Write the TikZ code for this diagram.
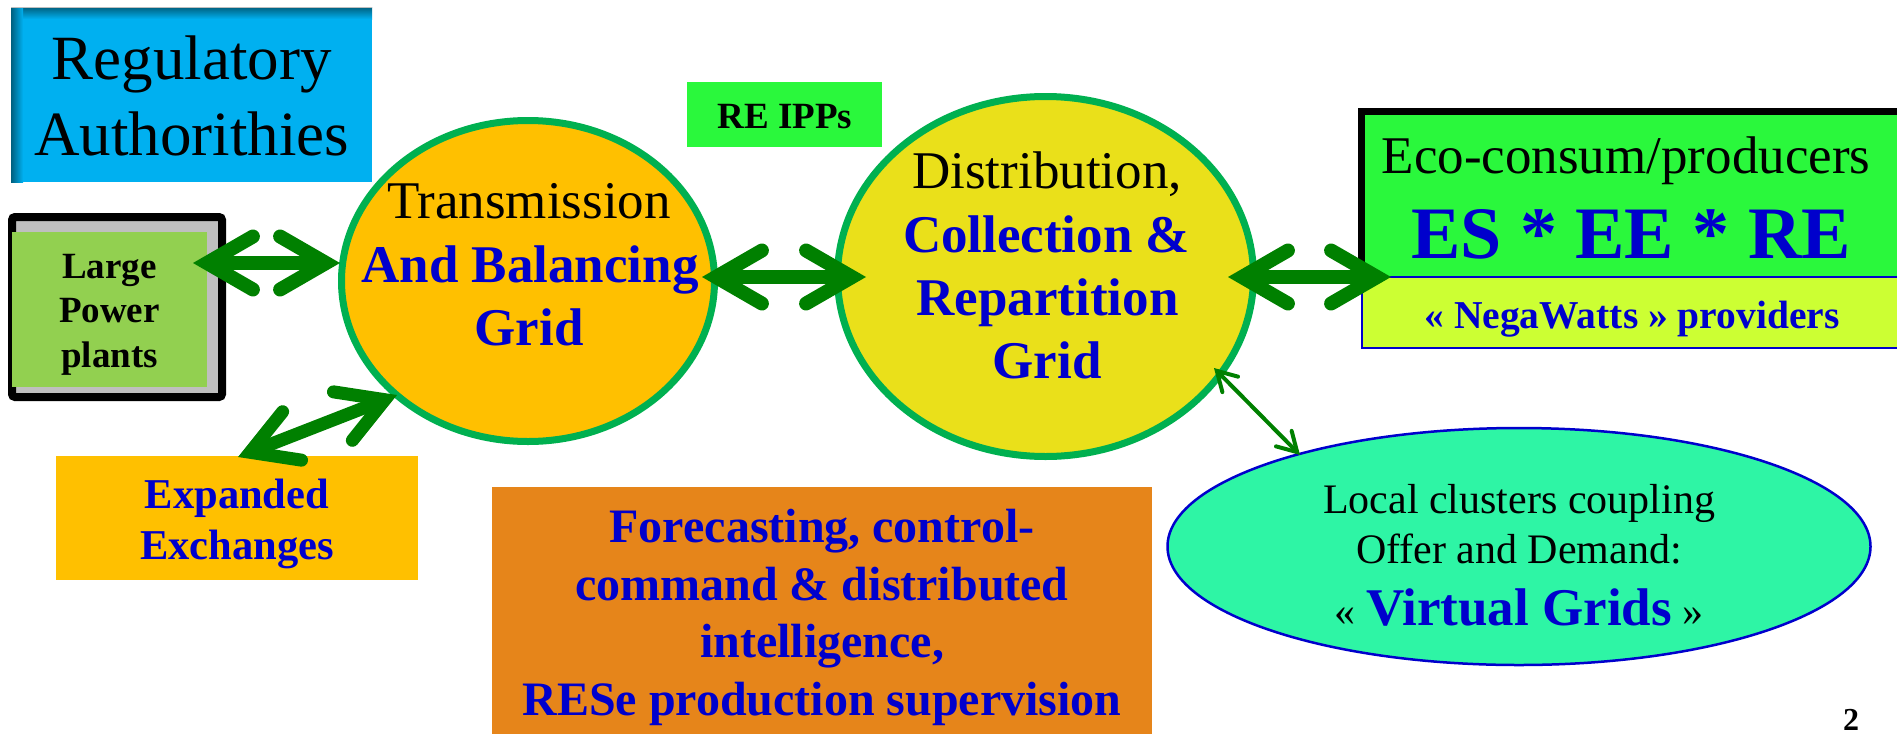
\documentclass[tikz,border=0pt]{standalone}
\usepackage{fontspec}
\setmainfont{Liberation Serif}
\usetikzlibrary{shapes.geometric,calc}
\definecolor{regblue}{HTML}{00B0F0}
\definecolor{regdark}{HTML}{00607F}
\definecolor{lppgreen}{HTML}{92D050}
\definecolor{lppgray}{HTML}{BFBFBF}
\definecolor{ringgreen}{HTML}{00B050}
\definecolor{transfill}{HTML}{FFC000}
\definecolor{distfill}{HTML}{EAE01A}
\definecolor{brightgreen}{HTML}{2AF83C}
\definecolor{negafill}{HTML}{CCFF33}
\definecolor{forefill}{HTML}{E6851A}
\definecolor{localfill}{HTML}{2EF5A5}
\definecolor{tblue}{HTML}{0000CC}
\definecolor{arrowgreen}{HTML}{008000}
\newcommand\fsz[1]{\fontsize{#1}{#1}\selectfont}
\newcommand\biarrow[4]{%
  \draw[arrowshaft, line width=#3] ($(#1)!#3!(#2)$) -- ($(#2)!#3!(#1)$);
  \draw[arrowbarb, line width=#3] ($(#1)!#3!(#2)!#4!30:(#2)$) -- ($(#1)!#3!(#2)$) -- ($(#1)!#3!(#2)!#4!-30:(#2)$);
  \draw[arrowbarb, line width=#3] ($(#2)!#3!(#1)!#4!30:(#1)$) -- ($(#2)!#3!(#1)$) -- ($(#2)!#3!(#1)!#4!-30:(#1)$);
}
\begin{document}
\begin{tikzpicture}[x=1pt,y=-1pt,
  txt/.style={inner sep=0pt, anchor=base},
  bb/.style={text=tblue, font={\fsz{#1}\bfseries}},
  box/.style={inner sep=0pt, outer sep=0pt, rectangle},
  ring/.style={ellipse, inner sep=0pt, draw=ringgreen, line width=7pt},
  arrowshaft/.style={draw=arrowgreen, line cap=butt},
  arrowbarb/.style={draw=arrowgreen, line cap=round, line join=miter}]
\useasboundingbox (0,0) rectangle (1897,734);

% Regulatory Authorithies
\node[box, fill=regblue, minimum width=361pt, minimum height=175pt] (reg) at (191.5,94.5) {};
\shade[top color=regdark, bottom color=regblue] (reg.north west) rectangle ($(reg.north east)+(0,12)$);
\shade[left color=regdark, right color=regblue] (reg.north west) rectangle ($(reg.south west)+(12,0)$);
\draw[lppgray, line width=1pt] (reg.north west) -- (reg.north east);

% Large power plants
\node[box, draw=black, line width=8pt, fill=lppgray, rounded corners=3pt, minimum width=210pt, minimum height=180pt] (lppframe) at (117,307) {};
\node[box, fill=lppgreen, minimum width=195pt, minimum height=155pt] (lpp) at (109.5,309.5) {};

% Transmission and distribution ellipses
\node[ring, fill=transfill, minimum width=373pt, minimum height=321pt] (trans) at (528,281) {};
\node[ring, fill=distfill, minimum width=416pt, minimum height=360pt] (dist) at (1045.5,276.5) {};

% RE IPPs
\node[box, fill=brightgreen, minimum width=195pt, minimum height=65pt] (ipp) at (784.5,114.5) {};

% Eco-consum/producers
\node[box, fill=black, minimum width=539pt, minimum height=169pt] (ecoframe) at (1627.5,192.5) {};
\node[box, fill=brightgreen, minimum width=532pt, minimum height=162pt] (eco) at (1631,196) {};
\node[box, fill=negafill, draw=tblue, line width=2.5pt, minimum width=536pt, minimum height=71pt] (nega) at (1630,312.5) {};

% Expanded exchanges
\node[box, fill=transfill, minimum width=362pt, minimum height=124pt] (exp) at (237,518) {};

% Forecasting
\node[box, fill=forefill, minimum width=660pt, minimum height=247pt] (fore) at (822,610.5) {};

% Local clusters
\node[ellipse, inner sep=0pt, fill=localfill, draw=tblue, line width=2.5pt, minimum width=703pt, minimum height=237pt] (local) at (1519,546.5) {};

% connector end points
\coordinate (a1l) at (193,263);
\coordinate (a1r) at (340,263);
\coordinate (a2l) at (702,277);
\coordinate (a2r) at (866,277);
\coordinate (a3l) at (1228,277);
\coordinate (a3r) at (1391,277);
\coordinate (a4l) at (238,457);
\coordinate (a4r) at (397,395);
\coordinate (a5l) at (1214,368);
\coordinate (a5r) at (1300,455);

\biarrow{a1l}{a1r}{14pt}{53pt}
\biarrow{a2l}{a2r}{14pt}{53pt}
\biarrow{a3l}{a3r}{14pt}{53pt}
\biarrow{a4l}{a4r}{13pt}{52pt}
\biarrow{a5l}{a5r}{4pt}{22pt}

% texts
\node[txt, font=\fsz{63}] (reg1) at (191.5,79) {Regulatory};
\node[txt, font=\fsz{63}] (reg2) at (191.5,155) {Authorithies};

\node[txt, font={\fsz{37}\bfseries}] (lpp1) at (109.5,278) {Large};
\node[txt, font={\fsz{37}\bfseries}] (lpp2) at (109.5,322) {Power};
\node[txt, font={\fsz{37}\bfseries}] (lpp3) at (109.5,367) {plants};

\node[txt, font=\fsz{53}] (tr1) at (529,218) {Transmission};
\node[txt, bb=53] (tr2) at (530,282) {And Balancing};
\node[txt, bb=53] (tr3) at (529,345) {Grid};

\node[txt, font={\fsz{37}\bfseries}] (ipp1) at (785,128) {RE IPPs};

\node[txt, font=\fsz{53}] (di1) at (1047,188) {Distribution,};
\node[txt, bb=53] (di2) at (1046.5,252) {Collection \&};
\node[txt, bb=53] (di3) at (1047.5,315) {Repartition};
\node[txt, bb=53] (di4) at (1047,378) {Grid};

\node[txt, font=\fsz{53}] (eco1) at (1626,173) {Eco-consum/producers};
\node[txt, bb=74] (eco2) at (1631,258) {ES * EE * RE};
\node[txt, bb=39.5] (nega1) at (1632,328) {« NegaWatts » providers};

\node[txt, bb=42.5] (exp1) at (237,508) {Expanded};
\node[txt, bb=42.5] (exp2) at (237,559) {Exchanges};

\node[txt, bb=48] (fo1) at (822,542) {Forecasting, control-};
\node[txt, bb=48] (fo2) at (822,600) {command \& distributed};
\node[txt, bb=48] (fo3) at (822,657) {intelligence,};
\node[txt, bb=48] (fo4) at (822,715) {RESe production supervision};

\node[txt, font=\fsz{42}] (lo1) at (1519,513) {Local clusters coupling};
\node[txt, font=\fsz{42}] (lo2) at (1519,563) {Offer and Demand:};
\node[txt, font=\fsz{42}] (lo3) at (1519,625) {« {\color{tblue}\fsz{53}\bfseries Virtual Grids} »};

\node[txt, font={\fsz{32}\bfseries}] (pg) at (1851,730) {2};
\end{tikzpicture}
\end{document}
